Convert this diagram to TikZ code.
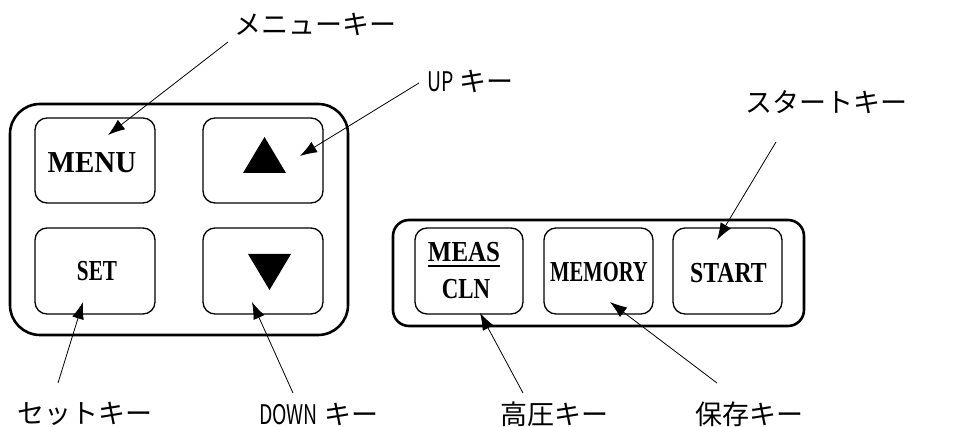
\documentclass[tikz,border=0pt]{standalone}
\usepackage{fontspec}
\setmainfont{Liberation Serif}
\newfontfamily\jp{Noto Sans CJK JP}
\usetikzlibrary{arrows.meta}
\tikzset{
  panel/.style={draw, line width=2.6pt},
  keybox/.style={draw, line width=1.3pt, rounded corners=12pt},
  lbl/.style={font=\jp\fontsize{27}{29}\selectfont, inner sep=0pt},
  keytxt/.style={font=\bfseries\fontsize{29}{31}\selectfont, inner sep=0pt},
  ptr/.style={line width=0.8pt, -{Latex[length=17pt,width=12pt]}},
}
\newcommand\halfw[1]{\scalebox{0.72}[1]{#1}}
\begin{document}
\begin{tikzpicture}[x=1pt,y=-1pt]
\useasboundingbox (0,0) rectangle (962,427);
% panels
\draw[panel, rounded corners=30pt] (10,104) rectangle (348,335);
\draw[panel, rounded corners=16pt] (393,220) rectangle (804,326);
% keys
\node[keybox, minimum width=120pt, minimum height=85pt] (menu) at (95,160.5) {};
\node[keybox, minimum width=120pt, minimum height=85pt] (up) at (263,160.5) {};
\node[keybox, minimum width=120pt, minimum height=86pt] (set) at (95,271) {};
\node[keybox, minimum width=120pt, minimum height=86pt] (down) at (263,271) {};
\node[keybox, minimum width=108pt, minimum height=86pt] (meas) at (469,271) {};
\node[keybox, minimum width=109pt, minimum height=86pt] (memory) at (598.5,271) {};
\node[keybox, minimum width=109pt, minimum height=86pt] (start) at (727.5,271) {};
% key texts
\node[keytxt] (tmenu) at (92,163) {\scalebox{1.0}[1.05]{MENU}};
\node[keytxt] (tset) at (97,271) {\scalebox{0.73}[1]{SET}};
\node[keytxt] (tmeas) at (464,252) {\scalebox{0.86}[1]{MEAS}};
\draw[line width=2.2pt] ([yshift=-4pt]tmeas.south west) -- ([yshift=-4pt]tmeas.south east);
\node[keytxt] (tcln) at (466,289) {\scalebox{0.79}[1]{CLN}};
\node[keytxt] (tmem) at (599,272.5) {\scalebox{0.71}[1]{MEMORY}};
\node[keytxt] (tstart) at (728.5,273) {\scalebox{0.82}[1]{START}};
\fill (243,173) -- (286,173) -- (264.5,137) -- cycle;
\fill (248,254) -- (291,254) -- (269.5,290) -- cycle;
% labels
\node[lbl] (lmenu) at (315,24) {メニューキー};
\node[lbl, anchor=west] (lup) at (427,81) {\halfw{UP} キー};
\node[lbl] (lstart) at (826,102) {スタートキー};
\node[lbl] (lset) at (85,414) {セットキー};
\node[lbl, anchor=west] (ldown) at (259,414) {\halfw{DOWN} キー};
\node[lbl] (lmeas) at (554,414) {高圧キー};
\node[lbl] (lmem) at (749,414) {保存キー};
% arrow end points
\coordinate (amenu) at (228,42);  \coordinate (bmenu) at (108,135);
\coordinate (aup) at (419,83);    \coordinate (bup) at (300,156);
\coordinate (aset) at (58,383);   \coordinate (bset) at (83,302);
\coordinate (adown) at (293,393); \coordinate (bdown) at (252,302);
\coordinate (astart) at (776,142);\coordinate (bstart) at (717,240);
\coordinate (ameas) at (523,393); \coordinate (bmeas) at (480,313);
\coordinate (amem) at (717,383);  \coordinate (bmem) at (610,302);
\draw[ptr] (amenu) -- (bmenu);
\draw[ptr] (aup) -- (bup);
\draw[ptr] (aset) -- (bset);
\draw[ptr] (adown) -- (bdown);
\draw[ptr] (astart) -- (bstart);
\draw[ptr] (ameas) -- (bmeas);
\draw[ptr] (amem) -- (bmem);
\end{tikzpicture}
\end{document}
